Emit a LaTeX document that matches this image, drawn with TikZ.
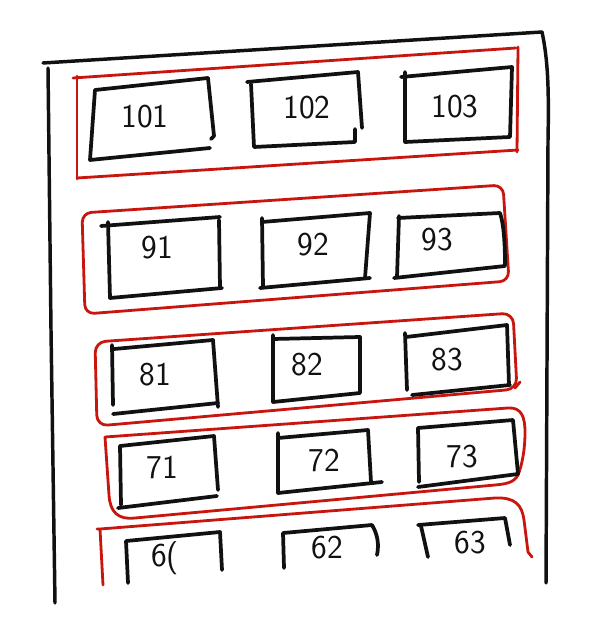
\documentclass[tikz,border=0pt]{standalone}
\definecolor{pen}{HTML}{111111}
\definecolor{redpen}{HTML}{C8160F}
\begin{document}
\begin{tikzpicture}[x=0.75pt,y=-0.75pt,
  wall/.style={draw=pen,line width=2.6pt,line cap=round,line join=round},
  room/.style={draw=pen,line width=2.8pt,line cap=round,line join=round},
  floorline/.style={draw=redpen,line width=2.1pt,line cap=round,line join=round},
  num/.style={font=\sffamily\fontsize{25}{28}\selectfont,text=pen,inner sep=0pt}]
\useasboundingbox[fill=white] (0,0) rectangle (601,623);
% building outline
\draw[wall] (43,63) -- (542,32);
\draw[wall] (48,68) -- (51,330) -- (55,603);
\draw[wall] (542,32) .. controls (548,60) and (549,90) .. (548,140) -- (546,583);
% floor 10
\draw[floorline] (73,78) -- (516,48);
\draw[floorline] (518,47) -- (517,152);
\draw[floorline] (77,76) -- (77,179);
\draw[floorline] (77,178) -- (518,150);
\draw[room] (208,78) -- (95,90) -- (90,160) -- (210,148);
\draw[room] (208,78) -- (214,136) -- (211,139);
\draw[room] (247,82) -- (358,72) -- (362,128);
\draw[room] (251,84) -- (254,147) -- (355,142) -- (355,129);
\draw[room] (401,77) -- (512,67) -- (510,137) -- (405,142) -- (405,72);
\node[num] (r101) at (145,117) {101};
\node[num] (r102) at (307,108) {102};
\node[num] (r103) at (455,107) {103};
% floor 9
\draw[floorline,rounded corners=7pt] (82,213) -- (503,185) -- (509,281) -- (85,314) -- cycle;
\draw[room] (101,226) -- (220,217);
\draw[room] (108,222) -- (110,298) -- (222,288);
\draw[room] (219,220) -- (220,288);
\draw[room] (262,222) -- (370,213) -- (365,278);
\draw[room] (262,218) -- (263,287);
\draw[room] (260,288) -- (370,278);
\draw[room] (398,218) -- (500,213) .. controls (504,225) and (505,245) .. (505,265);
\draw[room] (399,216) -- (397,277);
\draw[room] (394,278) -- (505,266);
\node[num] (r91) at (157,248) {91};
\node[num] (r92) at (313,245) {92};
\node[num] (r93) at (437,240) {93};
% floor 8
\draw[floorline,rounded corners=8pt] (95,342) -- (513,313) -- (517,389) -- (97,426) -- cycle;
\draw[floorline] (515,388) -- (520,382);
\draw[room] (114,349) -- (213,340) -- (218,407);
\draw[room] (112,345) -- (113,405);
\draw[room] (113,414) -- (218,403);
\draw[room] (273,339) -- (360,337) -- (360,393) -- (273,402) -- (273,335);
\draw[room] (406,337) -- (507,325) -- (509,385);
\draw[room] (405,333) -- (407,390);
\draw[room] (412,395) -- (510,385);
\node[num] (r81) at (155,375) {81};
\node[num] (r82) at (307,365) {82};
\node[num] (r83) at (447,360) {83};
% floor 7
\draw[floorline] (105,437) -- (508,408) .. controls (522,407) and (525,418) .. (525,432)
  .. controls (525,450) and (522,465) .. (518,475) .. controls (514,483) and (505,484) .. (495,485)
  -- (135,518) .. controls (118,520) and (110,512) .. (109,495) -- (105,437);
\draw[room] (120,446) -- (214,436) -- (218,490);
\draw[room] (120,446) -- (121,505);
\draw[room] (118,508) -- (217,496);
\draw[room] (278,438) -- (368,430) -- (371,482);
\draw[room] (278,433) -- (278,493) -- (382,482);
\draw[room] (418,428) -- (513,420) -- (518,474);
\draw[room] (418,428) -- (419,482);
\draw[room] (418,487) -- (518,474);
\node[num] (r71) at (162,467) {71};
\node[num] (r72) at (324,460) {72};
\node[num] (r73) at (462,457) {73};
% floor 6
\draw[floorline] (103,585) -- (100,529) -- (97,529);
\draw[floorline] (100,529) -- (495,498) .. controls (515,497) and (522,505) .. (524,520)
  -- (528,552) -- (532,557);
\draw[room] (128,583) -- (126,541) -- (220,532) -- (222,570);
\draw[room] (284,568) -- (283,533) -- (372,525) .. controls (378,535) and (379,545) .. (377,555);
\draw[room] (428,557) -- (421,526);
\draw[room] (418,525) -- (505,518) -- (510,545);
\node[num] (r61) at (165,558) {6(};
\node[num] (r62) at (327,548) {62};
\node[num] (r63) at (470,543) {63};
\end{tikzpicture}
\end{document}
